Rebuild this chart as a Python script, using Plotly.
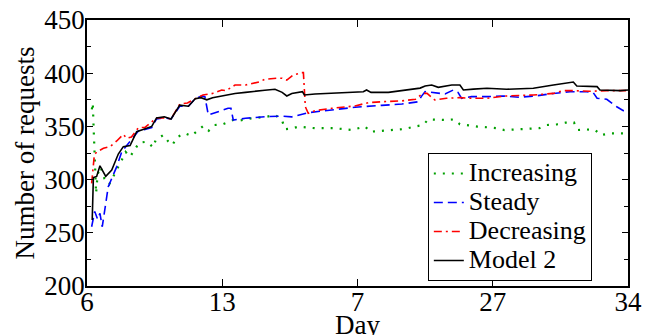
import plotly.graph_objects as go

# ---- data ----
tick_vals = [6, 13, 20, 27, 34]
tick_text = ["6", "13", "7", "27", "34"]
series_names = ["Increasing", "Steady", "Decreasing", "Model 2"]

inc_day = [6.25, 6.3, 6.33, 6.36, 6.4, 6.45, 6.47, 6.55, 6.7, 6.9, 7.15, 7.36, 7.62, 7.8, 8.0, 8.23, 8.48,
           8.7, 9.1, 9.43, 9.55, 9.95, 10.2, 10.42, 10.65, 11.07, 11.4, 12.02, 12.3, 12.6, 13.0, 13.57,
           13.9, 14.5, 15.3, 15.75, 16.1, 16.25, 16.6, 16.95, 17.8, 18.8, 19.7, 20.4, 20.65, 21.1, 21.6,
           22.43, 22.95, 23.4, 23.66, 24.6, 25.0, 25.3, 25.75, 26.2, 26.7, 27.2, 27.6, 28.4, 29.4, 29.8,
           30.3, 30.76, 31.2, 31.4, 31.8, 32.3, 32.6, 33.1, 33.6, 34.0]
inc_val = [366, 372, 355, 337, 318, 300, 287, 305, 312, 301, 295.6, 302.8, 311.6, 318.4, 326, 321.5, 328.5,
           334.7, 335.6, 330.3, 337, 341.9, 336, 332.5, 339.7, 343.5, 341, 350.4, 346, 351.3, 351.8, 356,
           355.5, 357.5, 359.1, 360.7, 355.4, 347.3, 348, 349.8, 348.3, 348.3, 346.7, 349.8, 345, 345.5, 346.6,
           347.5, 349.8, 351.3, 356.6, 356, 356.6, 352, 351, 349.8, 349.2, 348.3, 346.6, 347.2, 348.3, 351.3,
           351.8, 353.5, 353.8, 346.6, 347.2, 346.6, 341.9, 343.5, 343.5, 343.5]

std_day = [6.24, 6.4, 6.55, 6.67, 6.79, 7.1, 7.54, 7.8, 8.14, 8.66, 9.0, 9.35, 9.6, 10.0, 10.35, 10.8,
           11.25, 11.6, 11.94, 12.1, 12.28, 12.9, 13.3, 13.45, 13.57, 14.2, 15.2, 16.08, 16.6, 17.45, 18.67,
           19.87, 21.25, 22.3, 23.15, 23.3, 23.5, 23.92, 24.53, 24.96, 25.2, 25.39, 25.9, 26.69, 27.5, 28.4,
           29.2, 30.14, 31.0, 31.86, 32.2, 32.4, 32.9, 33.42, 33.76, 34.0]
std_val = [255.7, 270, 262.7, 268.3, 255.7, 293.4, 312.2, 326.2, 334, 345.6, 347, 349, 357, 358, 357, 369,
           369, 376, 378.6, 378, 360.7, 364.8, 367, 367, 356, 357.6, 359.1, 359.7, 359, 362.9, 365.4,
           368, 369.8, 371, 373.2, 378, 382.7, 381.7, 380.5, 384.2, 382, 376.4, 378, 378, 378.6, 377.4,
           378.6, 381, 382.6, 382.6, 381.7, 376.4, 375.5, 368.5, 364.8, 364]

dec_day = [6.24, 6.38, 6.5, 6.85, 7.19, 7.54, 7.88, 8.05, 8.3, 8.66, 9.0, 9.6, 10.0, 10.35, 10.8, 11.2,
           11.6, 12.0, 12.5, 12.97, 13.2, 13.66, 13.9, 14.2, 14.95, 15.2, 15.8, 16.1, 16.34, 16.68, 17.1,
           17.2, 17.3, 17.45, 17.8, 18.67, 19.87, 20.56, 21.25, 22.3, 23.0, 23.38, 23.6, 24.0, 24.6, 25.3,
           26.0, 26.7, 27.7, 29.1, 30.14, 30.65, 31.2, 32.0, 32.9, 33.9]
dec_val = [296.5, 323, 326, 329.4, 331, 336.3, 342.5, 338.8, 340, 348.8, 349, 358, 358, 357, 371, 372,
           376, 379.5, 381, 384.2, 383.6, 388.9, 388.9, 388.9, 392, 394.3, 395.2, 395.2, 393.5, 398.3, 400.5,
           400.5, 368.5, 362.3, 364.8, 367, 369.2, 372.3, 373.2, 374, 375.5, 381, 381, 374.8, 376.4, 377,
           376.4, 376.4, 378.6, 379.5, 381, 383.6, 383.6, 383, 383.6, 383.6]

mod_day = [6.27, 6.33, 6.5, 6.67, 6.97, 7.28, 7.62, 7.88, 8.23, 8.57, 8.9, 9.35, 9.6, 10.0, 10.35, 10.8,
           11.25, 11.6, 11.9, 12.2, 12.5, 13.14, 13.66, 14.2, 14.7, 15.2, 15.73, 16.1, 16.34, 16.6, 17.15,
           17.25, 17.8, 18.6, 19.5, 20.3, 20.47, 20.7, 21.6, 22.6, 23.24, 23.5, 23.84, 24.18, 24.5, 24.88,
           25.3, 25.48, 26.0, 26.7, 27.72, 28.4, 29.1, 30.14, 30.6, 31.17, 31.35, 32.4, 32.55, 33.6, 34.0]
mod_val = [262, 302, 303, 313, 303, 309, 324, 331, 332, 345, 347, 350, 358, 359, 357, 370,
           369, 376, 377, 375, 377, 379.5, 381, 382, 382.7, 384, 384.9, 382, 378.6, 381, 382.7,
           379.5, 380.5, 381, 381.7, 382.5, 384.2, 382, 382, 384.2, 386, 388, 388.9, 386.7, 387.5, 388.9,
           388.9, 384.2, 385, 385.8, 384.9, 385, 385.8, 388.9, 390, 391.7, 388, 387.4, 384.2, 383.6, 384.2]

FONT = "Liberation Serif"


def legend_label(name):
    return "<span style='font-size:26px'>" + name + "</span>"


fig = go.Figure()
fig.add_trace(go.Scatter(x=inc_day, y=inc_val, mode="lines", name=legend_label(series_names[0]),
                         line=dict(color="#00a000", width=2.2, dash="2px,7px")))
fig.add_trace(go.Scatter(x=std_day, y=std_val, mode="lines", name=legend_label(series_names[1]),
                         line=dict(color="#0000ff", width=1.6, dash="9px,5px")))
fig.add_trace(go.Scatter(x=dec_day, y=dec_val, mode="lines", name=legend_label(series_names[2]),
                         line=dict(color="#ff0000", width=1.6, dash="8px,4px,2px,4px")))
fig.add_trace(go.Scatter(x=mod_day, y=mod_val, mode="lines", name=legend_label(series_names[3]),
                         line=dict(color="#000000", width=1.6)))

axis_common = dict(showline=True, linecolor="black", linewidth=1.5, mirror="ticks",
                   ticks="inside", tickcolor="black", showgrid=False, zeroline=False,
                   automargin=False, ticklabeloverflow="allow",
                   tickfont=dict(family=FONT, size=27, color="black"))

fig.update_xaxes(range=[6, 34], tickvals=tick_vals, ticktext=tick_text, ticklen=7, tickwidth=1,
                 ticklabelstandoff=-9,
                 title=dict(text="Day", font=dict(family=FONT, size=27, color="black"), standoff=10),
                 **axis_common)
fig.update_yaxes(range=[200, 450], dtick=50, tick0=200, ticklen=6, tickwidth=1.2,
                 ticklabelstandoff=-5,
                 minor=dict(dtick=25, ticks="inside", ticklen=4, tickcolor="black", tickwidth=1),
                 title=dict(text="Number of requests", font=dict(family=FONT, size=27, color="black"),
                            standoff=2),
                 **axis_common)

# page body has an 8px margin; the x title is cut by the window bottom as in the reference
fig.update_layout(
    width=653, height=332,
    margin=dict(l=79, r=33, t=12, b=54),
    paper_bgcolor="white", plot_bgcolor="white",
    font=dict(family=FONT, color="black"),
    showlegend=True,
    legend=dict(x=0.63, y=0.5, xanchor="left", yanchor="top",
                bgcolor="white", bordercolor="black", borderwidth=1,
                font=dict(family=FONT, size=20, color="black"),
                tracegroupgap=0, itemwidth=30),
)

fig.write_html("out.html")
